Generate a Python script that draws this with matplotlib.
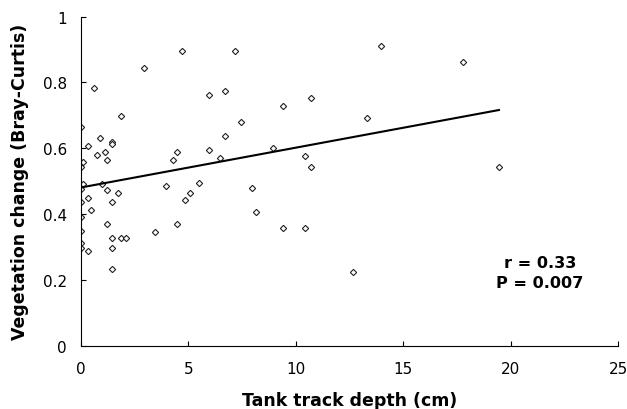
import numpy as np
import matplotlib
matplotlib.use("Agg")
import matplotlib.pyplot as plt

plt.rcParams['font.family'] = ['DejaVu Sans']

# tank track depth (cm) and vegetation change (Bray-Curtis)
depth = [0.0, 0.09, 0.0, 0.08, 0.0, 0.34, 0.0, 0.48, 0.0, 0.0, 0.0, 0.0, 0.34,
         0.33, 0.62, 0.73, 0.87, 0.96, 1.12, 1.22, 1.22, 1.22, 1.45, 1.47,
         1.47, 1.47, 1.47, 1.47, 1.74, 1.85, 1.86, 2.11, 2.94, 3.44, 3.94,
         4.29, 4.45, 4.45, 4.70, 4.84, 5.08, 5.49, 5.97, 5.97, 6.48, 6.71,
         6.71, 7.18, 7.47, 7.97, 8.17, 8.96, 9.41, 9.41, 10.45, 10.45, 10.70,
         10.70, 12.68, 13.32, 13.95, 17.80, 19.45]
change = [0.664, 0.557, 0.544, 0.493, 0.477, 0.450, 0.437, 0.414, 0.390, 0.350,
          0.311, 0.297, 0.289, 0.606, 0.784, 0.581, 0.632, 0.493, 0.590, 0.566,
          0.473, 0.370, 0.620, 0.612, 0.437, 0.329, 0.297, 0.233, 0.463, 0.697,
          0.329, 0.329, 0.845, 0.347, 0.486, 0.566, 0.590, 0.369, 0.895, 0.443,
          0.463, 0.495, 0.762, 0.596, 0.570, 0.774, 0.638, 0.895, 0.680, 0.479,
          0.408, 0.600, 0.729, 0.357, 0.577, 0.357, 0.752, 0.544, 0.223, 0.693,
          0.911, 0.862, 0.543]

# fitted line as drawn
fit_intercept = 0.481
fit_slope = 0.0121
stats_text = "r = 0.33\nP = 0.007"

fig = plt.figure(figsize=(6.27, 4.10), dpi=100)
ax = fig.add_axes([0.129, 0.154, 0.857, 0.803])

ax.plot(depth, change, linestyle="none", marker="D", markersize=3.2,
        markerfacecolor="white", markeredgecolor="#222222", markeredgewidth=0.8)

xfit = np.array([min(depth), max(depth)])
ax.plot(xfit, fit_intercept + fit_slope * xfit, color="black", linewidth=1.5)

ax.set_xlim(0, 25)
ax.set_ylim(0, 1)
ax.set_xticks([0, 5, 10, 15, 20, 25])
ax.set_yticks([0, 0.2, 0.4, 0.6, 0.8, 1])
ax.set_yticklabels(["0", "0.2", "0.4", "0.6", "0.8", "1"])

for s in ["top", "right"]:
    ax.spines[s].set_visible(False)
for s in ["left", "bottom"]:
    ax.spines[s].set_linewidth(0.8)

ax.tick_params(axis="x", direction="in", length=3.6, width=0.8, labelsize=11, pad=11)
ax.tick_params(axis="y", direction="in", length=3.6, width=0.8, labelsize=11, pad=10)

ax.set_xlabel("Tank track depth (cm)", fontsize=12.5, fontweight="bold")
ax.set_ylabel("Vegetation change (Bray-Curtis)", fontsize=12.5, fontweight="bold")
ax.xaxis.set_label_coords(0.5, -0.137)
ax.yaxis.set_label_coords(-0.097, 0.5)

ax.text(21.35, 0.222, stats_text, ha="center", va="center", fontsize=11.6,
        fontweight="bold", linespacing=1.4)

fig.savefig("out.png", dpi=100)
